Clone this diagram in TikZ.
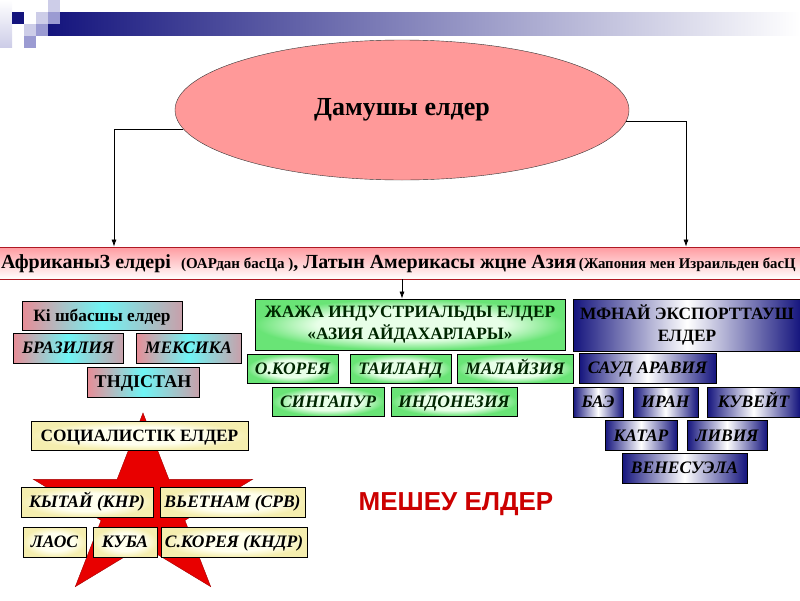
\documentclass[tikz,border=0pt]{standalone}
\usepackage{fontspec}
\setmainfont{Liberation Serif}
\newfontfamily\headsans{Liberation Sans}
\usetikzlibrary{shapes.geometric,arrows.meta}

\definecolor{navyb}{RGB}{20,20,125}
\definecolor{lavl}{RGB}{205,205,232}
\definecolor{lavm}{RGB}{155,155,210}
\definecolor{ellpink}{RGB}{255,153,153}
\definecolor{banpink}{RGB}{255,155,160}
\definecolor{banline}{RGB}{175,25,35}
\definecolor{pinkl}{RGB}{232,140,150}
\definecolor{cyanm}{RGB}{110,245,245}
\definecolor{grayr}{RGB}{200,160,170}
\definecolor{greenin}{RGB}{232,255,232}
\definecolor{greenout}{RGB}{105,228,118}
\definecolor{creamin}{RGB}{255,255,238}
\definecolor{creamout}{RGB}{245,238,175}
\definecolor{starred}{RGB}{232,0,0}
\definecolor{backred}{RGB}{204,0,0}

\pgfdeclareradialshading{rimgreen}{\pgfpoint{0bp}{0bp}}{color(0bp)=(greenin); color(15bp)=(greenin); color(25bp)=(greenout); color(50bp)=(greenout)}
\pgfdeclareradialshading{rimcream}{\pgfpoint{0bp}{0bp}}{color(0bp)=(creamin); color(15bp)=(creamin); color(25bp)=(creamout); color(50bp)=(creamout)}

\tikzset{
  arr/.style={-{Latex[length=7pt,width=5pt]}, line width=0.7pt},
  boxbase/.style={draw=black, line width=0.8pt, minimum height=30, inner sep=0pt},
  capline/.style={text height=11.8pt, text depth=0pt},
  leadbox/.style={boxbase, left color=pinkl, right color=grayr, middle color=cyanm},
  dragonbox/.style={boxbase, shading=rimgreen, text=black!85!green},
  oilbox/.style={boxbase, left color=navyb, right color=navyb, middle color=white},
  redbox/.style={boxbase, shading=rimcream},
  itbold/.style={capline, font=\bfseries\itshape\fontsize{17.5}{20}\selectfont},
  upbold/.style={font=\bfseries\fontsize{17.3}{22}\selectfont}
}

\begin{document}
\begin{tikzpicture}[x=1pt,y=-1pt]
  \useasboundingbox (0,0) rectangle (800,600);
  \clip (0,0) rectangle (800,600);

  % --- top bar and squares ---
  \shade[top color=white, bottom color=lavl] (0,0) rectangle (12,47);
  \shade[left color=navyb, right color=white] (48,12) rectangle (800,35);
  \foreach \sx/\sy/\col in {12/12/navyb,48/0/lavl,36/12/lavl,48/12/lavm,24/24/lavl,36/24/lavm,24/36/lavm}{
    \fill[\col] (\sx,\sy) rectangle (\sx+12,\sy+12);
  }

  % --- main ellipse ---
  \node[ellipse, draw=black!80, fill=ellpink, minimum width=454, minimum height=140,
        font=\bfseries\fontsize{26}{28}\selectfont] (ell) at (402,110) {Дамушы елдер};

  % --- banner ---
  \node[draw=banline, line width=0.8pt, top color=banpink, bottom color=white,
        minimum width=840, minimum height=32, inner sep=0pt] (banner) at (400,263) {};
  \node[anchor=west, inner sep=0pt, font=\bfseries] (bantext) at (1,264)
    {{\fontsize{20}{20}\selectfont АфриканыЗ елдері}\quad{\fontsize{15}{15}\selectfont (ОАРдан басЦа )}{\fontsize{20}{20}\selectfont , Латын Америкасы жцне Азия} {\fontsize{14.8}{15}\selectfont (Жапония мен Израильден басЦ}};

  \coordinate (lco) at (114,0);
  \coordinate (rco) at (686,0);
  \draw[arr] (ell.185) -| (lco |- banner.north);
  \draw[arr] (ell.-3) -| (rco |- banner.north);

  % --- leading countries ---
  \node[leadbox, upbold, capline, minimum width=160, minimum height=29] (lead) at (102,315.5) {Кі шбасшы елдер};
  \foreach \nm/\cx/\w/\txt in {bra/68/110/БРАЗИЛИЯ, mex/188.5/105/МЕКСИКА}{
    \node[leadbox, itbold, minimum width=\w] (\nm) at (\cx,348) {\txt};
  }
  \node[leadbox, capline, font=\bfseries\fontsize{18}{22}\selectfont, minimum width=112] (ind) at (143,382) {ТНДІСТАН};

  % --- asian dragons ---
  \node[dragonbox, upbold, minimum width=310, minimum height=51, align=center] (jaja) at (410,324.5)
    {ЖАЖА ИНДУСТРИАЛЬДЫ ЕЛДЕР\\«АЗИЯ АЙДАХАРЛАРЫ»};
  \draw[arr] (banner.south -| ell.south) -- (ell.south |- jaja.north);
  \foreach \nm/\cx/\cy/\w/\txt in {kor/292.5/368.5/91/О.КОРЕЯ, tai/400.5/368.5/101/ТАИЛАНД,
      mal/515/368.5/116/МАЛАЙЗИЯ, sin/328/401.5/112/СИНГАПУР, indo/454/401.5/126/ИНДОНЕЗИЯ}{
    \node[dragonbox, itbold, minimum width=\w, minimum height=29] (\nm) at (\cx,\cy) {\txt};
  }

  % --- oil exporters ---
  \node[oilbox, upbold, minimum width=228, minimum height=52, align=center] (oil) at (687,325)
    {МФНАЙ ЭКСПОРТТАУШ\\ЕЛДЕР};
  \foreach \nm/\cx/\cy/\w/\txt in {sau/647.5/368/137/САУД АРАВИЯ, bae/598/402/50/БАЭ,
      iran/665.5/402/65/ИРАН, kuw/753.5/402/93/КУВЕЙТ, qat/641/435.5/72/КАТАР,
      lib/727/435.5/80/ЛИВИЯ, ven/684.5/468/125/ВЕНЕСУЭЛА}{
    \node[oilbox, itbold, minimum width=\w] (\nm) at (\cx,\cy) {\txt};
  }

  % --- socialist countries ---
  \fill[starred, draw=starred!70!black, line width=0.4pt] (143,413)
    \foreach \a/\r in {126/36.7,162/96,198/36.7,234/96,270/36.7,306/96,342/36.7,18/96,54/36.7}
      {-- ({143+1.2*\r*cos(\a)},{509-\r*sin(\a)})} -- cycle;
  \node[redbox, upbold, capline, minimum width=217, minimum height=29] (soc) at (139.5,435.5) {СОЦИАЛИСТІК ЕЛДЕР};
  \foreach \nm/\cx/\cy/\w/\txt in {chn/87/502/132/{КЫТАЙ (КНР)}, vie/232.5/502/145/{ВЬЕТНАМ (СРВ)},
      lao/54.5/542/63/ЛАОС, cub/125/542/64/КУБА, nk/234/542/146/{С.КОРЕЯ (КНДР)}}{
    \node[redbox, itbold, minimum width=\w] (\nm) at (\cx,\cy) {\txt};
  }

  % --- backward countries ---
  \node[text=backred, font=\headsans\bfseries\fontsize{26}{28}\selectfont] (back) at (456,504) {МЕШЕУ ЕЛДЕР};
\end{tikzpicture}
\end{document}
